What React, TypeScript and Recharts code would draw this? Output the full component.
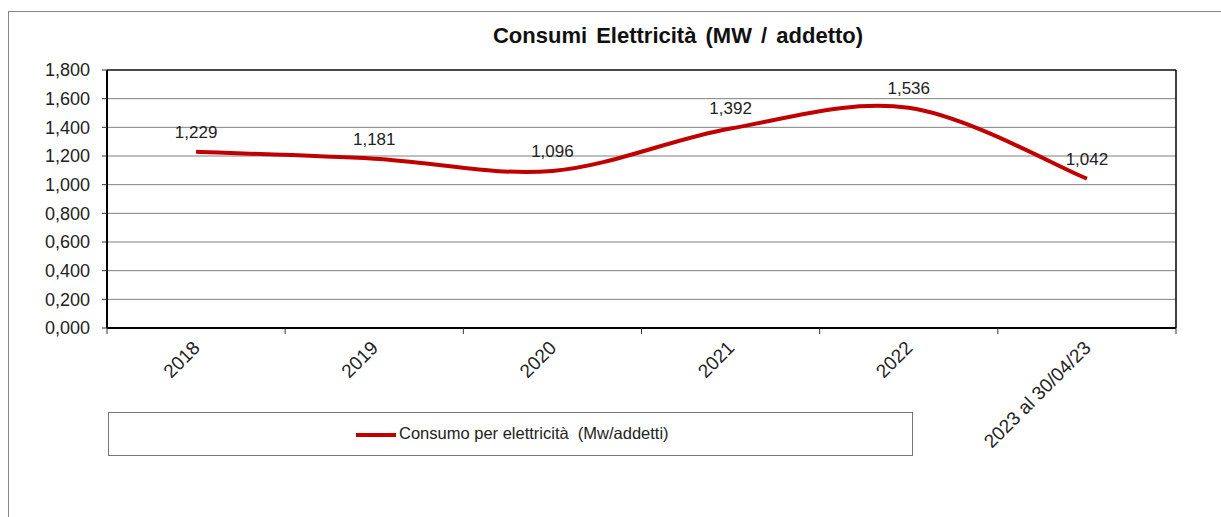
import React from 'react';
import { LineChart, Line, XAxis, YAxis, CartesianGrid, LabelList, ReferenceLine, Legend } from 'recharts';

const years = ['2018', '2019', '2020', '2021', '2022', '2023 al 30/04/23'];
const consumo = [1.229, 1.181, 1.096, 1.392, 1.536, 1.042];
const yTicks = [0, 0.2, 0.4, 0.6, 0.8, 1.0, 1.2, 1.4, 1.6, 1.8];

const FONT = 'Arial, "Liberation Sans", sans-serif';
const RED = '#C00000';

const data = years.map((year, i) => ({ year, consumo: consumo[i] }));

const fmt = (v: number) => v.toFixed(3).replace('.', ',');

// Excel-like smoothed line (Catmull-Rom through the points)
function smoothCurve(context: any) {
  let xs: number[] = [];
  let ys: number[] = [];
  return {
    areaStart() {},
    areaEnd() {},
    lineStart() {
      xs = [];
      ys = [];
    },
    point(x: number, y: number) {
      xs.push(x);
      ys.push(y);
    },
    lineEnd() {
      const n = xs.length;
      if (!n) return;
      context.moveTo(xs[0], ys[0]);
      for (let i = 0; i < n - 1; i++) {
        const x0 = xs[Math.max(i - 1, 0)], y0 = ys[Math.max(i - 1, 0)];
        const x1 = xs[i], y1 = ys[i];
        const x2 = xs[i + 1], y2 = ys[i + 1];
        const x3 = xs[Math.min(i + 2, n - 1)], y3 = ys[Math.min(i + 2, n - 1)];
        context.bezierCurveTo(
          x1 + (x2 - x0) / 6,
          y1 + (y2 - y0) / 6,
          x2 - (x3 - x1) / 6,
          y2 - (y3 - y1) / 6,
          x2,
          y2,
        );
      }
    },
  };
}

// category label + tick marks on the band edges (Excel style)
const YearTick = (props: any) => {
  const { x, y, payload, index } = props;
  const half = payload && payload.offset ? payload.offset : 0;
  const tx = x + 5;
  const ty = y + 13;
  const isLast = index === years.length - 1;
  return (
    <g>
      <line x1={x - half} x2={x - half} y1={y - 8} y2={y - 2} stroke="#333" />
      {isLast && <line x1={x + half} x2={x + half} y1={y - 8} y2={y - 2} stroke="#333" />}
      <text
        x={tx}
        y={ty}
        transform={`rotate(-45, ${tx}, ${ty})`}
        textAnchor="end"
        fontSize={19}
        fontFamily={FONT}
        fill="#222"
      >
        {payload.value}
      </text>
    </g>
  );
};

const LegendBox = () => (
  <div
    style={{
      width: 805,
      height: 44,
      border: '1px solid #777',
      boxSizing: 'border-box',
      position: 'relative',
      fontFamily: FONT,
    }}
  >
    <div style={{ position: 'absolute', left: 247, top: 20, width: 40, height: 4, background: RED }} />
    <div style={{ position: 'absolute', left: 290, top: 11, fontSize: 16.5, color: '#222', whiteSpace: 'pre' }}>
      {'Consumo per elettricità  (Mw/addetti)'}
    </div>
  </div>
);

export default function App() {
  return (
    <div style={{ position: 'absolute', left: 0, top: 0, width: 1221, height: 517, background: '#fff', overflow: 'hidden' }}>
      <div
        style={{
          position: 'absolute',
          left: 8,
          top: 11,
          width: 1300,
          height: 600,
          borderTop: '1px solid #888',
          borderLeft: '1px solid #888',
        }}
      />
      <div
        style={{
          position: 'absolute',
          left: 678,
          top: 23,
          transform: 'translateX(-50%)',
          fontFamily: FONT,
          fontWeight: 'bold',
          fontSize: 22,
          wordSpacing: 3,
          color: '#111',
          whiteSpace: 'nowrap',
        }}
      >
        Consumi Elettricità (MW / addetto)
      </div>
      <LineChart
        width={1221}
        height={517}
        data={data}
        margin={{ top: 70, right: 0, bottom: 0, left: 0 }}
        style={{ position: 'absolute', left: 0, top: 0 }}
      >
        <CartesianGrid vertical={false} stroke="#808080" strokeWidth={1} />
        <XAxis
          dataKey="year"
          scale="band"
          height={189}
          axisLine={{ stroke: '#000', strokeWidth: 2 }}
          tickLine={false}
          interval={0}
          tick={<YearTick />}
        />
        <YAxis
          domain={[0, 1.8]}
          ticks={yTicks}
          width={107}
          tickFormatter={fmt}
          tickSize={5}
          tickMargin={12}
          interval={0}
          axisLine={{ stroke: '#000', strokeWidth: 2 }}
          tickLine={{ stroke: '#333' }}
          tick={{ fill: '#222', fontSize: 18, fontFamily: FONT }}
        />
        <YAxis
          yAxisId="border"
          orientation="right"
          domain={[0, 1.8]}
          width={45}
          tick={false}
          tickLine={false}
          axisLine={{ stroke: '#000', strokeWidth: 1.5 }}
        />
        <ReferenceLine y={1.8} stroke="#222" strokeWidth={1.5} />
        <Legend
          layout="horizontal"
          verticalAlign="middle"
          align="center"
          wrapperStyle={{ position: 'absolute', left: 108, top: 412, width: 805, height: 44 }}
          content={() => <LegendBox />}
        />
        <Line
          dataKey="consumo"
          type={smoothCurve as any}
          stroke={RED}
          strokeWidth={4}
          dot={false}
          activeDot={false}
          isAnimationActive={false}
        >
          <LabelList
            dataKey="consumo"
            position="top"
            offset={14}
            formatter={(v: any) => fmt(Number(v))}
            style={{ fill: '#222', fontSize: 17, fontFamily: FONT }}
          />
        </Line>
      </LineChart>
    </div>
  );
}
